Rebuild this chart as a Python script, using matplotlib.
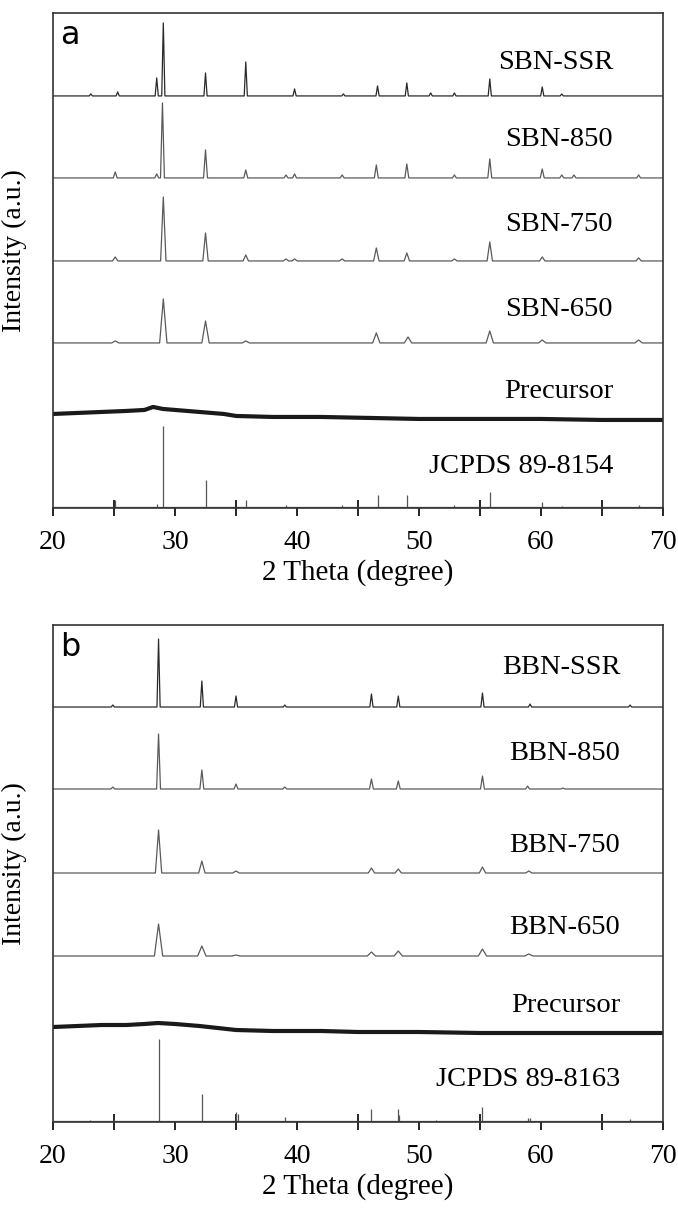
import matplotlib.pyplot as plt
from matplotlib.ticker import MultipleLocator

# -----------------------------
# Data (2 Theta positions in degrees, heights in plot units)
# -----------------------------
x_range = (20, 70)

# panel a: SBN samples
sbn_labels = ['SBN-SSR', 'SBN-850', 'SBN-750', 'SBN-650', 'Precursor', 'JCPDS 89-8154']
sbn_offsets = [412, 330, 247, 165]
sbn_label_y = [445, 368, 283, 198, 116, 41]

sbn_ssr_pos = [23.1, 25.3, 28.5, 29.04, 32.5, 35.8, 39.8, 43.8, 46.6, 49.0, 50.96, 52.9, 55.8, 60.1, 61.7]
sbn_ssr_int = [2, 4, 18, 73, 23, 34, 7, 2, 10, 13, 3, 3, 17, 9, 2]
sbn_850_pos = [25.1, 28.5, 28.97, 32.5, 35.8, 39.1, 39.8, 43.7, 46.5, 49.0, 52.9, 55.8, 60.1, 61.7, 62.7, 68.0]
sbn_850_int = [6, 4, 75, 28, 8, 3, 4, 3, 13, 14, 3, 19, 9, 3, 3, 3]
sbn_750_pos = [25.1, 29.04, 32.5, 35.8, 39.1, 39.8, 43.7, 46.5, 49.0, 52.9, 55.8, 60.1, 68.0]
sbn_750_int = [4, 64, 28, 6, 2, 2, 2, 13, 8, 2, 19, 4, 3]
sbn_650_pos = [25.1, 29.04, 32.5, 35.8, 46.5, 49.1, 55.8, 60.1, 68.0]
sbn_650_int = [2, 44, 22, 2, 10, 6, 12, 3, 3]

sbn_pre_x = [20, 22, 24, 26, 27.5, 28.2, 29, 30, 32, 34, 35, 38, 42, 46, 50, 55, 60, 65, 70]
sbn_pre_y = [94, 95, 96, 97, 98, 101, 99, 98, 96, 94, 92, 91, 91, 90, 89, 89, 89, 88, 88]

sbn_ref_pos = [25.1, 28.5, 29.04, 32.5, 35.8, 39.1, 43.7, 46.6, 49.0, 52.9, 55.8, 60.1, 61.7, 68.0]
sbn_ref_int = [7, 3, 81, 27, 7, 2, 2, 12, 12, 2, 15, 5, 1, 2]

# panel b: BBN samples
bbn_labels = ['BBN-SSR', 'BBN-850', 'BBN-750', 'BBN-650', 'Precursor', 'JCPDS 89-8163']
bbn_offsets = [415, 333, 249, 166]
bbn_label_y = [455, 369, 277, 195, 116, 42]

bbn_ssr_pos = [24.9, 28.65, 32.2, 35.0, 39.0, 46.1, 48.3, 55.2, 59.1, 67.3]
bbn_ssr_int = [2, 68, 26, 11, 2, 13, 11, 14, 3, 2]
bbn_850_pos = [24.9, 28.65, 32.2, 35.0, 39.0, 46.1, 48.3, 55.2, 58.9, 61.8]
bbn_850_int = [2, 55, 19, 5, 2, 10, 8, 13, 3, 1]
bbn_750_pos = [28.65, 32.2, 35.0, 46.1, 48.3, 55.2, 59.0]
bbn_750_int = [43, 12, 2, 5, 4, 6, 2]
bbn_650_pos = [28.65, 32.2, 35.0, 46.1, 48.3, 55.2, 59.0]
bbn_650_int = [32, 10, 1, 4, 5, 7, 2]

bbn_pre_x = [20, 22, 24, 26, 27.5, 28.6, 30, 32, 35, 38, 42, 45, 50, 55, 60, 65, 70]
bbn_pre_y = [95, 96, 97, 97, 98, 99, 98, 96, 92, 91, 91, 90, 90, 89, 89, 89, 89]

bbn_ref_pos = [23.0, 25.0, 28.65, 32.2, 35.0, 35.2, 39.0, 46.1, 48.3, 48.4, 51.4, 55.2, 58.9, 59.1, 67.3]
bbn_ref_int = [1, 2, 82, 27, 9, 7, 4, 12, 12, 6, 1, 14, 3, 3, 2]

# peak half widths (degrees) per crystalline trace
sbn_widths = [0.13, 0.16, 0.22, 0.3]
bbn_widths = [0.13, 0.16, 0.26, 0.34]

# -----------------------------
# Style
# -----------------------------
plt.rcParams.update({
    "font.family": ["Liberation Serif", "DejaVu Serif"],
    "font.size": 20,
    "axes.linewidth": 1.2,
})

trace_colors = ['#2a2a2a', '#5a5a5a', '#5a5a5a', '#5a5a5a']


def spike_line(pos, height, offset, hw):
    xs = [x_range[0]]
    ys = [offset]
    for p, h in sorted(zip(pos, height)):
        xs += [p - hw, p, p + hw]
        ys += [offset, offset + h, offset]
    xs.append(x_range[1])
    ys.append(offset)
    return xs, ys


def draw_panel(ax, letter, labels, label_y, offsets, traces, widths,
               pre_x, pre_y, ref_pos, ref_int, label_x, ymax):
    for (pos, h), off, hw, c in zip(traces, offsets, widths, trace_colors):
        xs, ys = spike_line(pos, h, off, hw)
        ax.plot(xs, ys, color=c, lw=0.9)

    ax.plot(pre_x, pre_y, color='#1a1a1a', lw=3.0)

    ax.vlines(ref_pos, 1, [1 + v for v in ref_int], color='#555555', lw=0.9)
    ax.axhline(1, color='#555555', lw=0.9)

    for txt, y in zip(labels, label_y):
        ax.text(label_x, y, txt, ha='right', va='center', fontsize=20.5)

    ax.text(0.012, 0.985, letter, transform=ax.transAxes, ha='left', va='top',
            fontsize=23, family='DejaVu Sans')

    ax.set_xlim(*x_range)
    ax.set_ylim(0, ymax)
    ax.set_yticks([])
    ax.xaxis.set_major_locator(MultipleLocator(10))
    ax.xaxis.set_minor_locator(MultipleLocator(5))
    ax.tick_params(axis='x', which='major', direction='out', length=6, width=1.2,
                   pad=10, labelsize=20)
    ax.tick_params(axis='x', which='minor', direction='inout', length=11, width=1.2)
    for s in ax.spines.values():
        s.set_color('#333333')

    ax.set_xlabel('2 Theta (degree)', fontsize=21, labelpad=3)
    ax.set_ylabel('Intensity (a.u.)', fontsize=20)
    ax.yaxis.set_label_coords(-0.042, 0.52)


def main():
    fig = plt.figure(figsize=(6.78, 12.08), dpi=100)
    ax_a = fig.add_axes([0.0782, 0.5795, 0.8997, 0.4098])
    ax_b = fig.add_axes([0.0782, 0.0712, 0.8997, 0.4114])

    sbn_traces = [(sbn_ssr_pos, sbn_ssr_int), (sbn_850_pos, sbn_850_int),
                  (sbn_750_pos, sbn_750_int), (sbn_650_pos, sbn_650_int)]
    bbn_traces = [(bbn_ssr_pos, bbn_ssr_int), (bbn_850_pos, bbn_850_int),
                  (bbn_750_pos, bbn_750_int), (bbn_650_pos, bbn_650_int)]

    draw_panel(ax_a, 'a', sbn_labels, sbn_label_y, sbn_offsets, sbn_traces, sbn_widths,
               sbn_pre_x, sbn_pre_y, sbn_ref_pos, sbn_ref_int, 65.9, 495)
    draw_panel(ax_b, 'b', bbn_labels, bbn_label_y, bbn_offsets, bbn_traces, bbn_widths,
               bbn_pre_x, bbn_pre_y, bbn_ref_pos, bbn_ref_int, 66.5, 497)

    fig.savefig('out.png', dpi=100)


if __name__ == "__main__":
    main()
